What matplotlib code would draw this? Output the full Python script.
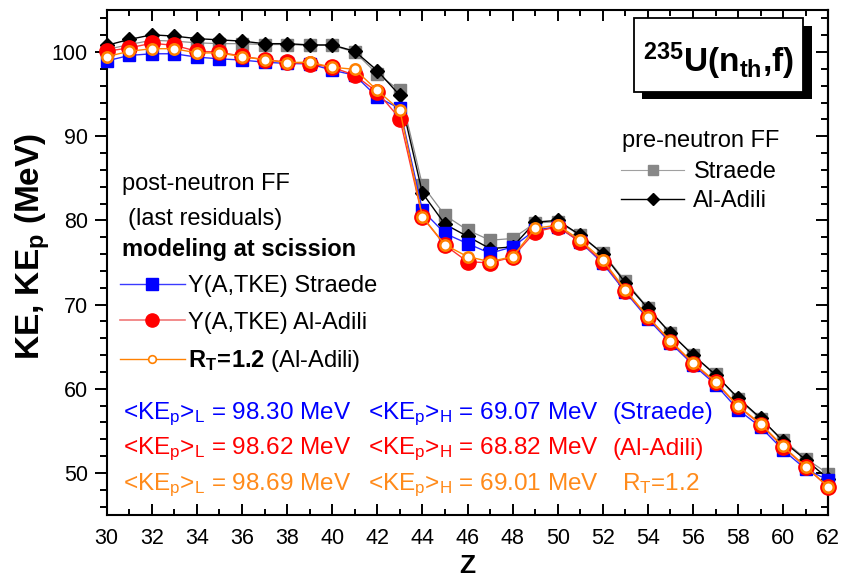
import matplotlib
matplotlib.use("Agg")
import matplotlib.pyplot as plt
import matplotlib.transforms as mtransforms
from matplotlib.lines import Line2D
from matplotlib.patches import Rectangle
from matplotlib.ticker import MultipleLocator

plt.rcParams['font.family'] = ['Liberation Sans', 'DejaVu Sans']
plt.rcParams['mathtext.fontset'] = 'custom'
plt.rcParams['mathtext.rm'] = 'Liberation Sans'
plt.rcParams['mathtext.it'] = 'Liberation Sans:italic'
plt.rcParams['mathtext.bf'] = 'Liberation Sans:bold'

# charge number of the fragment
Z = list(range(30, 63))

# pre-neutron fragments
straede_pre = [100.3, 100.9, 101.4, 101.3, 101.1, 101.0, 101.0, 100.9, 100.9, 100.8, 100.8,
               100.0, 97.4, 95.45, 84.2, 80.6, 78.85, 77.65, 77.85, 79.7, 79.85, 78.25,
               76.1, 72.8, 69.6, 66.6, 64.0, 61.7, 58.8, 56.4, 53.9, 51.7, 49.9]
adili_pre = [100.8, 101.5, 102.05, 101.9, 101.6, 101.45, 101.3, 101.0, 101.0, 100.85, 100.85,
             100.1, 97.8, 94.85, 83.25, 79.55, 78.1, 76.65, 76.85, 79.8, 80.0, 78.25,
             76.05, 72.6, 69.55, 66.6, 64.0, 61.65, 58.9, 56.5, 53.75, 51.55, 49.3]

# post-neutron fragments (modeling at scission)
straede_post = [98.95, 99.6, 99.8, 99.8, 99.4, 99.2, 99.05, 98.8, 98.65, 98.6, 97.85,
                97.25, 94.65, 93.3, 81.2, 78.45, 77.25, 76.1, 76.85, 78.85, 79.25, 77.45,
                74.9, 71.5, 68.3, 65.45, 62.85, 60.5, 57.5, 55.45, 52.7, 50.45, 49.15]
adili_post = [100.1, 100.5, 101.05, 100.8, 100.1, 100.0, 99.5, 99.1, 98.8, 98.6, 98.2,
              97.25, 95.25, 92.1, 80.4, 77.05, 75.1, 74.95, 75.65, 78.65, 79.25, 77.45,
              75.1, 71.6, 68.5, 65.6, 63.0, 60.75, 57.9, 55.75, 53.05, 50.7, 48.3]
rt12_post = [99.45, 100.1, 100.4, 100.4, 99.9, 99.9, 99.45, 99.1, 98.75, 98.8, 98.2,
             97.95, 95.45, 93.1, 80.45, 77.1, 75.7, 75.1, 75.7, 79.05, 79.45, 77.65,
             75.3, 71.75, 68.55, 65.7, 63.1, 60.85, 57.95, 55.85, 53.15, 50.75, 48.35]

avg_rows = [
    (r'<KE$_\mathrm{p}$>$_\mathrm{L}$ = 98.30 MeV', r'<KE$_\mathrm{p}$>$_\mathrm{H}$ = 69.07 MeV', '(Straede)', '#0000ff'),
    (r'<KE$_\mathrm{p}$>$_\mathrm{L}$ = 98.62 MeV', r'<KE$_\mathrm{p}$>$_\mathrm{H}$ = 68.82 MeV', '(Al-Adili)', '#ff0000'),
    (r'<KE$_\mathrm{p}$>$_\mathrm{L}$ = 98.69 MeV', r'<KE$_\mathrm{p}$>$_\mathrm{H}$ = 69.01 MeV', r'R$_\mathrm{T}$=1.2', '#ff8a1a'),
]

W, H = 848, 580
fig = plt.figure(figsize=(W / 100, H / 100), dpi=100)
# pixel coords, origin top-left
pix = mtransforms.Affine2D().scale(1 / W, -1 / H).translate(0, 1) + fig.transFigure

ax = fig.add_axes([106.7 / W, 1 - 515 / H, (828.3 - 106.7) / W, (515 - 10) / H])

ax.plot(Z, straede_pre, color='#8c8c8c', lw=0.9, marker='s', ms=8.5,
        mfc='#808080', mec='#808080', zorder=2, clip_on=False)
ax.plot(Z, adili_pre, color='black', lw=1.0, marker='D', ms=7.2,
        mfc='black', mec='black', zorder=3, clip_on=False)
ax.plot(Z, straede_post, color='#2a2aff', lw=1.0, marker='s', ms=8.5,
        mfc='blue', mec='blue', zorder=4, clip_on=False)
ax.plot(Z, adili_post, color='#ff3333', lw=1.0, marker='o', ms=11,
        mfc='red', mec='red', zorder=5, clip_on=False)
ax.plot(Z, rt12_post, color='#ff8000', lw=1.0, marker='o', ms=7.5,
        mfc='white', mec='#ff8000', mew=1.8, zorder=6, clip_on=False)

ax.set_xlim(30, 62)
ax.set_ylim(45, 105)
ax.set_xticks(range(30, 63, 2))
ax.xaxis.set_minor_locator(MultipleLocator(1))
ax.set_yticks([50, 60, 70, 80, 90, 100])
ax.yaxis.set_minor_locator(MultipleLocator(2))
for s in ax.spines.values():
    s.set_linewidth(1.5)
ax.tick_params(axis='x', which='both', direction='in', top=True, bottom=True,
               width=1.4, labelsize=15.5, pad=9)
ax.tick_params(axis='x', which='major', length=8)
ax.tick_params(axis='x', which='minor', length=4.5)
ax.tick_params(axis='y', which='both', direction='out', right=False,
               width=1.4, labelsize=15.5, pad=5)
ax.tick_params(axis='y', which='major', length=8.5)
ax.tick_params(axis='y', which='minor', length=5)

sec = ax.secondary_yaxis('right')
sec.set_yticks([50, 60, 70, 80, 90, 100])
sec.yaxis.set_minor_locator(MultipleLocator(2))
sec.tick_params(which='both', direction='in', width=1.4, labelright=False)
sec.tick_params(which='major', length=8.5)
sec.tick_params(which='minor', length=5)
sec.spines['right'].set_linewidth(1.5)

fig.text(33, 246, r'KE, KE$_\mathbf{p}$ (MeV)', transform=pix, rotation=90,
         ha='center', va='center', fontsize=24, fontweight='bold')
fig.text(467, 566, 'Z', transform=pix, ha='center', va='center',
         fontsize=19, fontweight='bold')

# left legend block
fs = 17
fig.text(121.7, 190, 'post-neutron FF', transform=pix, fontsize=fs, va='baseline')
fig.text(128, 225, '(last residuals)', transform=pix, fontsize=fs, va='baseline')
fig.text(121.7, 256, 'modeling at scission', transform=pix, fontsize=fs,
         fontweight='bold', va='baseline')
left_handles = [
    Line2D([], [], color='#3a3aff', lw=1, marker='s', ms=8.5, mfc='blue', mec='blue'),
    Line2D([], [], color='#f07878', lw=1.2, marker='o', ms=9.5, mfc='red', mec='red'),
    Line2D([], [], color='#ff8000', lw=1, marker='o', ms=5.5, mfc='white',
           mec='#ff8000', mew=1.2),
]
left_labels = ['Y(A,TKE) Straede', 'Y(A,TKE) Al-Adili',
               r'$\mathbf{R}_\mathbf{T}\!\mathbf{=}\!\mathbf{1.2}$ (Al-Adili)']
leg1 = ax.legend(left_handles, left_labels, loc='upper left', bbox_to_anchor=(120, 275),
                 bbox_transform=pix, frameon=False, fontsize=fs, borderpad=0,
                 borderaxespad=0, handlelength=2.75, handletextpad=0.15, labelspacing=0.62)
ax.add_artist(leg1)

# right legend block
fig.text(621.7, 147, 'pre-neutron FF', transform=pix, fontsize=fs, va='baseline')
right_handles = [
    Line2D([], [], color='#a0a0a0', lw=0.8, marker='s', ms=7, mfc='#888888', mec='#888888'),
    Line2D([], [], color='black', lw=1, marker='D', ms=6.2, mfc='black', mec='black'),
]
ax.legend(right_handles, ['Straede', 'Al-Adili'], loc='upper left', bbox_to_anchor=(620.7, 161),
          bbox_transform=pix, frameon=False, fontsize=fs, borderpad=0, borderaxespad=0,
          handlelength=2.7, handletextpad=0.38, labelspacing=0.3)

# reaction label with drop shadow
fig.patches.append(Rectangle((642, 26), 169.7, 73.3, transform=pix,
                             facecolor='black', edgecolor='none', zorder=5))
fig.patches.append(Rectangle((634.3, 18.3), 169, 73.4, transform=pix,
                             facecolor='white', edgecolor='black', lw=1.3, zorder=6))
fig.text(718, 61, r'$^{\mathbf{235}}\mathbf{U(n}_{\mathbf{th}}\mathbf{{,}f)}$', transform=pix,
         ha='center', va='center', fontsize=24, zorder=7)

# mean kinetic energies
for row, (txt_l, txt_h, tag, col) in enumerate(avg_rows):
    yb = 419 + row * 35.5
    fig.text(123.3, yb, txt_l, transform=pix, color=col, fontsize=17.5, va='baseline')
    fig.text(368, yb, txt_h, transform=pix, color=col, fontsize=17.5, va='baseline')
    fig.text(613 if row < 2 else 621.7, yb, tag, transform=pix, color=col,
             fontsize=17.5, va='baseline')

fig.savefig('out.png', dpi=100)
